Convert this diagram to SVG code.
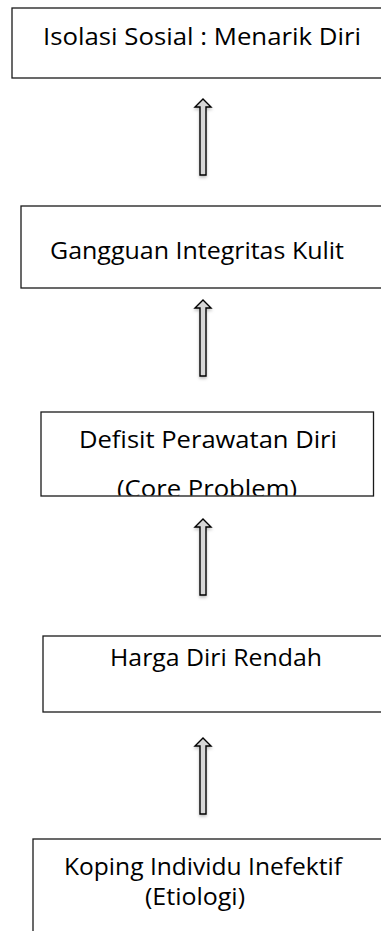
<svg xmlns="http://www.w3.org/2000/svg" width="381" height="931" viewBox="0 0 381 931">
  <style>
    .box { fill: #ffffff; stroke: #1a1a1a; stroke-width: 1.3; }
    .label { font-family: "Open Sans", "Liberation Sans", sans-serif; font-size: 23px; fill: #000000; text-anchor: middle; }
    .arrow { fill: #d6d6d6; stroke: #000000; stroke-width: 1.4; stroke-linejoin: miter; }
  </style>
  <defs>
    <filter id="soft" x="-50%" y="-20%" width="200%" height="140%">
      <feDropShadow dx="0" dy="2" stdDeviation="1.5" flood-color="#000000" flood-opacity="0.25"/>
    </filter>
    <clipPath id="clip-core">
      <rect x="41" y="412" width="333" height="83.5"/>
    </clipPath>
    <!-- hollow block arrow pointing up, tip at origin -->
    <path id="up" d="M0,0 L8,8 L3,8 L3,76 L-3,76 L-3,8 L-8,8 Z"/>
  </defs>

  <g id="connectors">
    <use href="#up" class="arrow" filter="url(#soft)" x="203" y="99"/>
    <use href="#up" class="arrow" filter="url(#soft)" x="203" y="300"/>
    <use href="#up" class="arrow" filter="url(#soft)" x="203" y="519"/>
    <use href="#up" class="arrow" filter="url(#soft)" x="203" y="738"/>
  </g>

  <g id="isolasi-sosial">
    <rect class="box" x="12" y="8" width="375" height="70"/>
    <text class="label" x="202" y="45" textLength="318" lengthAdjust="spacingAndGlyphs">Isolasi Sosial : Menarik Diri</text>
  </g>

  <g id="gangguan-integritas-kulit">
    <rect class="box" x="21" y="206" width="366" height="82"/>
    <text class="label" x="197" y="259" textLength="294" lengthAdjust="spacingAndGlyphs">Gangguan Integritas Kulit</text>
  </g>

  <g id="defisit-perawatan-diri">
    <rect class="box" x="41" y="412" width="332.5" height="84"/>
    <text class="label" x="208" y="448" textLength="258" lengthAdjust="spacingAndGlyphs">Defisit Perawatan Diri</text>
    <text class="label" x="207" y="497" textLength="180" lengthAdjust="spacingAndGlyphs" clip-path="url(#clip-core)">(Core Problem)</text>
  </g>

  <g id="harga-diri-rendah">
    <rect class="box" x="43" y="636" width="344" height="76"/>
    <text class="label" x="216" y="666" textLength="212" lengthAdjust="spacingAndGlyphs">Harga Diri Rendah</text>
  </g>

  <g id="koping-individu-inefektif">
    <rect class="box" x="33" y="839" width="354" height="100"/>
    <text class="label" x="203" y="875" textLength="278" lengthAdjust="spacingAndGlyphs">Koping Individu Inefektif</text>
    <text class="label" x="195" y="905" textLength="100" lengthAdjust="spacingAndGlyphs">(Etiologi)</text>
  </g>
</svg>
